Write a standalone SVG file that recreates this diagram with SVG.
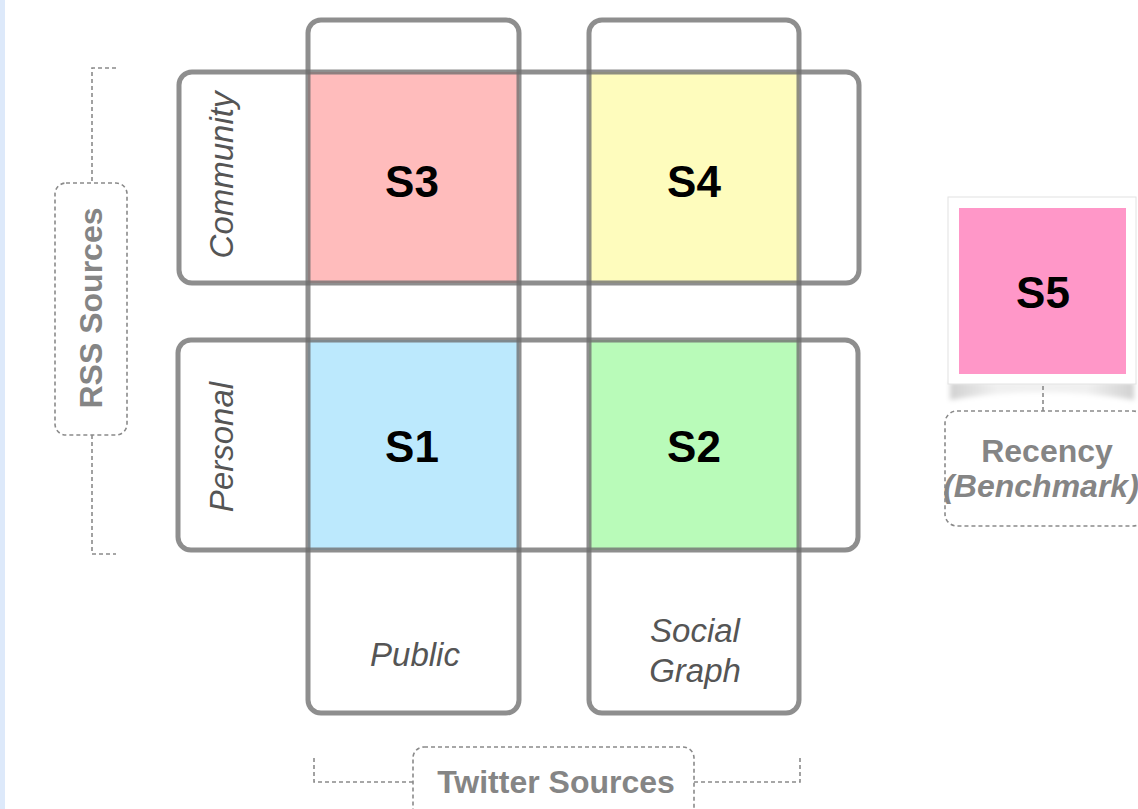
<svg xmlns="http://www.w3.org/2000/svg" width="1138" height="809" viewBox="0 0 1138 809">
  <defs>
    <style>
      .frame { fill: none; stroke: #6e6e6e; stroke-opacity: 0.78; stroke-width: 5; }
      .dash { fill: none; stroke: #8a8a8a; stroke-width: 1.6; stroke-dasharray: 4 3; }
      .big { font-family: "Liberation Sans", Arial, sans-serif; font-weight: bold; font-size: 44px; fill: #000; text-anchor: middle; }
      .lab { font-family: "Liberation Sans", Arial, sans-serif; font-style: italic; font-size: 33px; fill: #555; text-anchor: middle; }
      .grp { font-family: "Liberation Sans", Arial, sans-serif; font-weight: bold; font-size: 32px; fill: #858585; text-anchor: middle; }
    </style>
    <linearGradient id="shadowH" x1="0" y1="0" x2="1" y2="0">
      <stop offset="0" stop-color="#000" stop-opacity="0.18"/>
      <stop offset="0.25" stop-color="#000" stop-opacity="0.06"/>
      <stop offset="0.75" stop-color="#000" stop-opacity="0.06"/>
      <stop offset="1" stop-color="#000" stop-opacity="0.18"/>
    </linearGradient>
    <filter id="blur" x="-10%" y="-50%" width="120%" height="200%">
      <feGaussianBlur stdDeviation="2.5"/>
    </filter>
  </defs>

  <rect x="0" y="0" width="1138" height="809" fill="#ffffff"/>
  <rect x="0" y="0" width="5" height="809" fill="#dde9fa"/>

  <!-- colored cells -->
  <g id="cells">
    <rect id="S3-fill" x="308" y="72" width="211" height="211" fill="#ffbcbc"/>
    <rect id="S4-fill" x="589" y="72" width="210" height="211" fill="#fefcbd"/>
    <rect id="S1-fill" x="308" y="340" width="211" height="210" fill="#bce9fd"/>
    <rect id="S2-fill" x="589" y="340" width="210" height="210" fill="#b9fbb9"/>
  </g>

  <!-- frames -->
  <g id="col-public">
    <rect class="frame" x="308" y="20" width="211" height="693" rx="13"/>
    <text class="lab" x="415" y="666">Public</text>
  </g>
  <g id="col-social">
    <rect class="frame" x="589" y="20" width="210" height="693" rx="13"/>
    <text class="lab" x="695" y="642">Social</text>
    <text class="lab" x="695" y="682">Graph</text>
  </g>
  <g id="row-community">
    <rect class="frame" x="179" y="72" width="680" height="211" rx="13"/>
    <text class="lab" transform="translate(233,175) rotate(-90)">Community</text>
  </g>
  <g id="row-personal">
    <rect class="frame" x="178" y="340" width="680" height="210" rx="13"/>
    <text class="lab" transform="translate(233,447) rotate(-90)">Personal</text>
  </g>

  <!-- cell labels -->
  <g id="S3"><text class="big" x="412" y="197">S3</text></g>
  <g id="S4"><text class="big" x="694" y="197">S4</text></g>
  <g id="S1"><text class="big" x="412" y="462">S1</text></g>
  <g id="S2"><text class="big" x="694" y="462">S2</text></g>

  <!-- S5 card -->
  <g id="S5">
    <path d="M950,382 L1134,382 L1134,400 Q1042,384 950,400 Z" fill="url(#shadowH)" filter="url(#blur)"/>
    <rect x="948" y="197" width="188" height="187" fill="#ffffff" stroke="#e2e2e2" stroke-width="1"/>
    <rect x="959" y="208" width="167" height="166" fill="#ff97c8"/>
    <text class="big" x="1043" y="308">S5</text>
  </g>

  <!-- group labels -->
  <g id="rss-sources">
    <rect class="dash" x="55" y="183" width="72" height="252" rx="11"/>
    <text class="grp" transform="translate(102,308) rotate(-90)">RSS Sources</text>
  </g>
  <g id="twitter-sources">
    <rect class="dash" x="413" y="747" width="281" height="90" rx="11"/>
    <text class="grp" x="556" y="793">Twitter Sources</text>
  </g>
  <g id="recency">
    <rect class="dash" x="945" y="411" width="200" height="115" rx="12"/>
    <text class="grp" x="1047" y="462" font-size="28">Recency</text>
    <text class="grp" x="1041" y="497" font-size="26.5" font-style="italic">(Benchmark)</text>
  </g>

  <!-- connectors -->
  <g id="connectors">
    <path class="dash" d="M116,68 L92,68 L92,183"/>
    <path class="dash" d="M92,435 L92,554 L116,554"/>
    <path class="dash" d="M314,758 L314,782 L413,782"/>
    <path class="dash" d="M694,782 L800,782 L800,758"/>
    <path class="dash" d="M1043,386 L1043,411"/>
  </g>
</svg>
